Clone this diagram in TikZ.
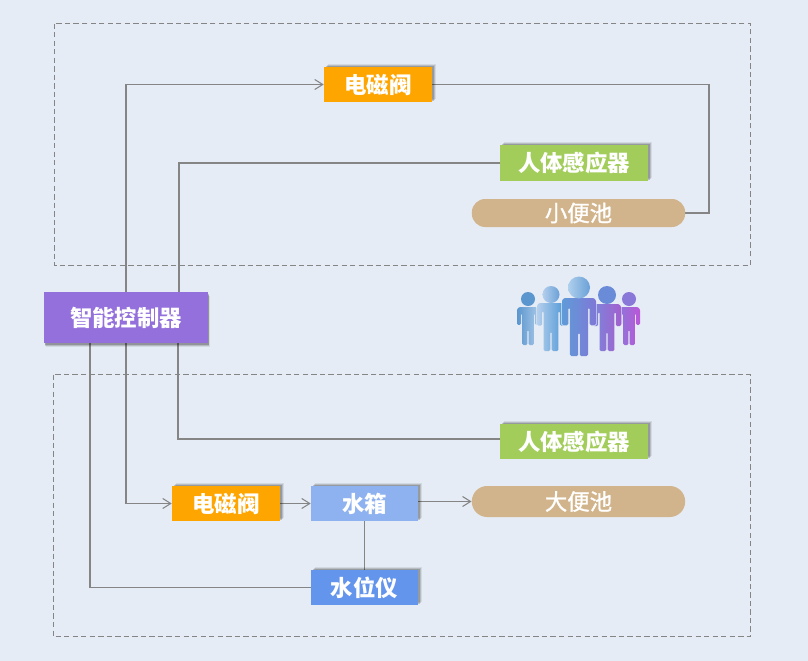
\documentclass[tikz,border=0pt]{standalone}
\usepackage{fontspec}
\newfontfamily\cjk{Noto Sans CJK SC}
\newfontfamily\cjkm[FakeBold=1.2]{Noto Sans CJK SC}
\usetikzlibrary{arrows.meta,shadows,backgrounds}
\definecolor{bgc}{HTML}{E6ECF5}
\definecolor{linec}{HTML}{858585}
\definecolor{orangec}{HTML}{FFA500}
\definecolor{greenc}{HTML}{A2CD5A}
\definecolor{tanc}{HTML}{D2B48C}
\definecolor{purplec}{HTML}{9370DB}
\definecolor{ltblue}{HTML}{8EB1F0}
\definecolor{midblue}{HTML}{6495ED}
\definecolor{pa}{HTML}{5B96CE}
\definecolor{pb}{HTML}{A9C8E8}
\definecolor{pc}{HTML}{B4CFEC}
\definecolor{pd}{HTML}{4F97D6}
\definecolor{pe}{HTML}{AFD0EC}
\definecolor{pf}{HTML}{6AA0D8}
\definecolor{pg}{HTML}{6A8BD8}
\definecolor{ph}{HTML}{A45FD0}
\definecolor{pi}{HTML}{8A78D8}
\definecolor{pj}{HTML}{BC55D8}
\definecolor{pk}{HTML}{5F9BD8}
\definecolor{pl}{HTML}{7F78D6}
\definecolor{pm}{HTML}{7A86D8}
% \personhead{cx}{y}{r}{c1}{c2}
\newcommand{\personhead}[5]{%
  \shade[shading angle=135,left color=#4,right color=#5]
    ({#1-#3},#2) arc[start angle=180,end angle=-180,radius=#3];
}
% \personbody{cx}{top}{half width}{bottom}{c1}{c2}
\newcommand{\personbody}[6]{%
  \shade[preaction={draw=bgc,line width=1pt},shading angle=150,left color=#5,right color=#6,rounded corners=1pt]
    ({#1-#3},{#2+2}) -- ({#1-#3},{#2+0.47*(#4-#2)}) -- ({#1-0.63*#3},{#2+0.47*(#4-#2)})
    -- ({#1-0.63*#3},{#2+0.17*(#4-#2)}) -- ({#1-0.53*#3},{#2+0.17*(#4-#2)})
    -- ({#1-0.53*#3},#4) -- ({#1-0.05*#3},#4) -- ({#1-0.05*#3},{#2+0.6*(#4-#2)})
    -- ({#1+0.05*#3},{#2+0.6*(#4-#2)}) -- ({#1+0.05*#3},#4) -- ({#1+0.53*#3},#4)
    -- ({#1+0.53*#3},{#2+0.17*(#4-#2)}) -- ({#1+0.63*#3},{#2+0.17*(#4-#2)})
    -- ({#1+0.63*#3},{#2+0.47*(#4-#2)}) -- ({#1+#3},{#2+0.47*(#4-#2)})
    -- ({#1+#3},{#2+2}) -- ({#1+#3-2},#2) -- ({#1-#3+2},#2) -- cycle;
}
\tikzset{
  x=0.75pt,y=-0.75pt,
  box/.style={inner sep=0pt,text=white,font=\cjk\bfseries\fontsize{16.8pt}{18pt}\selectfont,
    minimum width=#1*0.75pt},
  shadowtr/.style={
    general shadow={fill=black,opacity=.08,shadow xshift=2.8pt,shadow yshift=2.4pt},
    general shadow={fill=black,opacity=.13,shadow xshift=2.0pt,shadow yshift=1.7pt},
    general shadow={fill=black,opacity=.18,shadow xshift=1.2pt,shadow yshift=1.0pt}},
  shadowbr/.style={
    general shadow={fill=black,opacity=.08,shadow xshift=1.4pt,shadow yshift=-3.2pt},
    general shadow={fill=black,opacity=.14,shadow xshift=1.0pt,shadow yshift=-2.2pt},
    general shadow={fill=black,opacity=.20,shadow xshift=0.6pt,shadow yshift=-1.2pt}},
  conn/.style={draw=linec,line width=0.95pt},
  arr/.style={conn,-{Straight Barb[length=6pt,width=7.5pt,line width=0.8pt]}},
  zone/.style={draw=linec,line width=0.7pt,dash pattern=on 4pt off 2.4pt},
  poolstyle/.style={inner sep=0pt,text=white,fill=tanc,rounded corners=#1,
    font=\cjkm\fontsize{16.8pt}{18pt}\selectfont,minimum width=160pt},
}
\begin{document}
\begin{tikzpicture}
\useasboundingbox (0,0) rectangle (808,661);

\node[box=108,minimum height=26.25pt,fill=orangec,shadowtr] (valveA) at (378,84.5) {电磁阀};
\node[box=148,minimum height=27pt,fill=greenc,shadowtr] (sensorA) at (574,163) {人体感应器};
\node[poolstyle=10pt,minimum height=21pt] (poolA) at (578.5,213) {小便池};
\node[box=164,minimum height=38.25pt,fill=purplec,shadowbr] (ctrl) at (126,317.5) {智能控制器};
\node[box=148,minimum height=26.25pt,fill=greenc,shadowtr] (sensorB) at (574,441.5) {人体感应器};
\node[box=108,minimum height=26.25pt,fill=orangec,shadowtr] (valveB) at (226,503.5) {电磁阀};
\node[box=107,minimum height=26.25pt,fill=ltblue,shadowtr] (tank) at (364.5,503.5) {水箱};
\node[poolstyle=11.5pt,minimum height=23.25pt] (poolB) at (578.5,501.5) {大便池};
\node[box=107,minimum height=26.25pt,fill=midblue,shadowtr] (level) at (364.5,587.5) {水位仪};

\begin{scope}[on background layer]
  \fill[bgc] (0,0) rectangle (808,661);
  \draw[zone] (54.5,23.5) rectangle (750.5,265.5);
  \draw[zone] (53,374.5) rectangle (750.5,636.5);
  \coordinate (upL) at (126,292);
  \coordinate (upR) at (179,292);
  \coordinate (dnA) at (90,343);
  \coordinate (dnB) at (126,343);
  \coordinate (dnC) at (178,343);
  \coordinate (sensorBin) at (500,439);
  \coordinate (turnA) at (709,84.5);
  \draw[arr] (upL) |- (valveA.west);
  \draw[conn] (upR) |- (sensorA.west);
  \draw[conn] (valveA.east) -- (turnA) |- (poolA.east);
  \draw[conn] (dnC) |- (sensorBin);
  \draw[arr] (dnB) |- (valveB.west);
  \draw[conn] (dnA) |- (level.west);
  \draw[arr] (valveB.east) -- (tank.west);
  \draw[arr] (tank.east |- poolB.west) -- (poolB.west);
  \draw[conn] (tank.south) -- (level.north);
\end{scope}

\personbody{528}{307}{11}{345}{pa}{pb}
\personhead{528}{299}{7}{pa}{pa}
\personbody{629}{307}{11}{345}{pi}{pj}
\personhead{629}{299}{7}{pi}{pi}
\personbody{551}{303}{14}{351}{pc}{pd}
\personhead{551}{294.5}{8.5}{pc}{pf}
\personbody{607}{304}{14}{351}{pm}{ph}
\personhead{607}{295}{9}{pg}{pg}
\personbody{579}{298}{17}{356}{pk}{pl}
\personhead{579}{287.5}{11}{pe}{pf}
\end{tikzpicture}
\end{document}
